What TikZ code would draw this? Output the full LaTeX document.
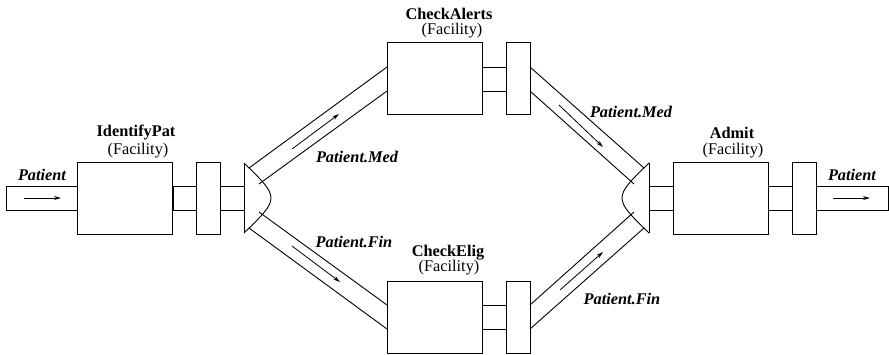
\documentclass[tikz,border=0pt]{standalone}
\usepackage{fontspec}
\setmainfont{LiberationSerif}[Extension=.ttf,UprightFont=*-Regular,BoldFont=*-Bold,ItalicFont=*-Italic,BoldItalicFont=*-BoldItalic]
\usetikzlibrary{arrows.meta}
\begin{document}
\begin{tikzpicture}[x=1pt,y=-1pt,line width=0.9pt,
  box/.style={draw,rectangle,inner sep=0pt,outer sep=0pt,minimum width=95pt,minimum height=72pt},
  port/.style={draw,rectangle,inner sep=0pt,outer sep=0pt,minimum width=24pt,minimum height=72pt},
  pipe/.style={draw,rectangle,inner sep=0pt,outer sep=0pt,minimum height=24pt},
  flow/.style={-{Stealth[length=7pt,width=4pt]},line width=0.8pt},
  title/.style={font=\fontsize{16.3}{19}\selectfont\bfseries,inner sep=0pt},
  sub/.style={font=\fontsize{16.3}{19}\selectfont,inner sep=0pt},
  lab/.style={font=\fontsize{16.3}{19}\selectfont\bfseries\itshape,inner sep=0pt}]
\useasboundingbox (0,0) rectangle (889,354);
% boxes
\node[box] (idbox) at (125,198) {};
\node[port] (idport) at (208,198) {};
\node[box] (cabox) at (434.5,78.5) {};
\node[port] (caport) at (518,78.5) {};
\node[box] (cebox) at (434.5,317) {};
\node[port] (ceport) at (518,317) {};
\node[box] (adbox) at (720.5,198) {};
\node[port] (adport) at (804,198) {};
% short pipes
\node[pipe,minimum width=71pt] (inpipe) at (41.5,198) {};
\node[pipe,minimum width=23pt] (p1) at (184.5,198) {};
\node[pipe,minimum width=24pt] (p2) at (232,198) {};
\node[pipe,minimum width=24pt] (p3) at (494,79) {};
\node[pipe,minimum width=24pt] (p4) at (494,317) {};
\node[pipe,minimum width=24pt] (p5) at (661,198) {};
\node[pipe,minimum width=24pt] (p6) at (780,198) {};
\node[pipe,minimum width=72pt] (outpipe) at (852,198) {};
% splitter and merger
\coordinate (st) at (244,163); \coordinate (sb) at (244,233);
\coordinate (mt) at (649,163); \coordinate (mb) at (649,233);
\draw (st) -- (sb);
\draw (st) .. controls (280,198) .. (sb);
\draw (mt) -- (mb);
\draw (mt) .. controls (613,198) .. (mb);
% diagonal pipes
\coordinate (s1) at (249,168); \coordinate (s2) at (259,184);
\coordinate (s3) at (259,212); \coordinate (s4) at (249,228);
\coordinate (m1) at (644,168); \coordinate (m2) at (634,184);
\coordinate (m3) at (634,212); \coordinate (m4) at (644,228);
\draw (s1) -- (p3.north -| cabox.west);
\draw (s2) -- (p3.south -| cabox.west);
\draw (s3) -- (p4.north -| cebox.west);
\draw (s4) -- (p4.south -| cebox.west);
\draw (p3.north -| caport.east) -- (m1);
\draw (p3.south -| caport.east) -- (m2);
\draw (p4.north -| ceport.east) -- (m3);
\draw (p4.south -| ceport.east) -- (m4);
% flow arrows
\coordinate (a1) at (24,198); \coordinate (a2) at (61,198);
\coordinate (b1) at (833,198); \coordinate (b2) at (870,198);
\coordinate (c1) at (292,149); \coordinate (c2) at (339,114);
\coordinate (d1) at (292,246); \coordinate (d2) at (340,282);
\coordinate (e1) at (559,105); \coordinate (e2) at (603,147);
\coordinate (f1) at (560,290); \coordinate (f2) at (603,252);
\draw[flow] (a1) -- (a2);
\draw[flow] (b1) -- (b2);
\draw[flow] (c1) -- (c2);
\draw[flow] (d1) -- (d2);
\draw[flow] (e1) -- (e2);
\draw[flow] (f1) -- (f2);
% labels
\node[lab] (l1) at (42,175) {Patient};
\node[lab] (l2) at (852,175) {Patient};
\node[lab] (l3) at (357,157) {Patient.Med};
\node[lab] (l4) at (631,112) {Patient.Med};
\node[lab] (l5) at (354,242) {Patient.Fin};
\node[lab] (l6) at (622,299) {Patient.Fin};
\node[title] (t1) at (136,133) {IdentifyPat};
\node[sub] (f1t) at (138,151) {(Facility)};
\node[title] (t2) at (449,14) {CheckAlerts};
\node[sub] (f2t) at (452,31) {(Facility)};
\node[title] (t3) at (448,253) {CheckElig};
\node[sub] (f3t) at (449,268) {(Facility)};
\node[title] (t4) at (732,133) {Admit};
\node[sub] (f4t) at (733,151) {(Facility)};
\end{tikzpicture}
\end{document}
